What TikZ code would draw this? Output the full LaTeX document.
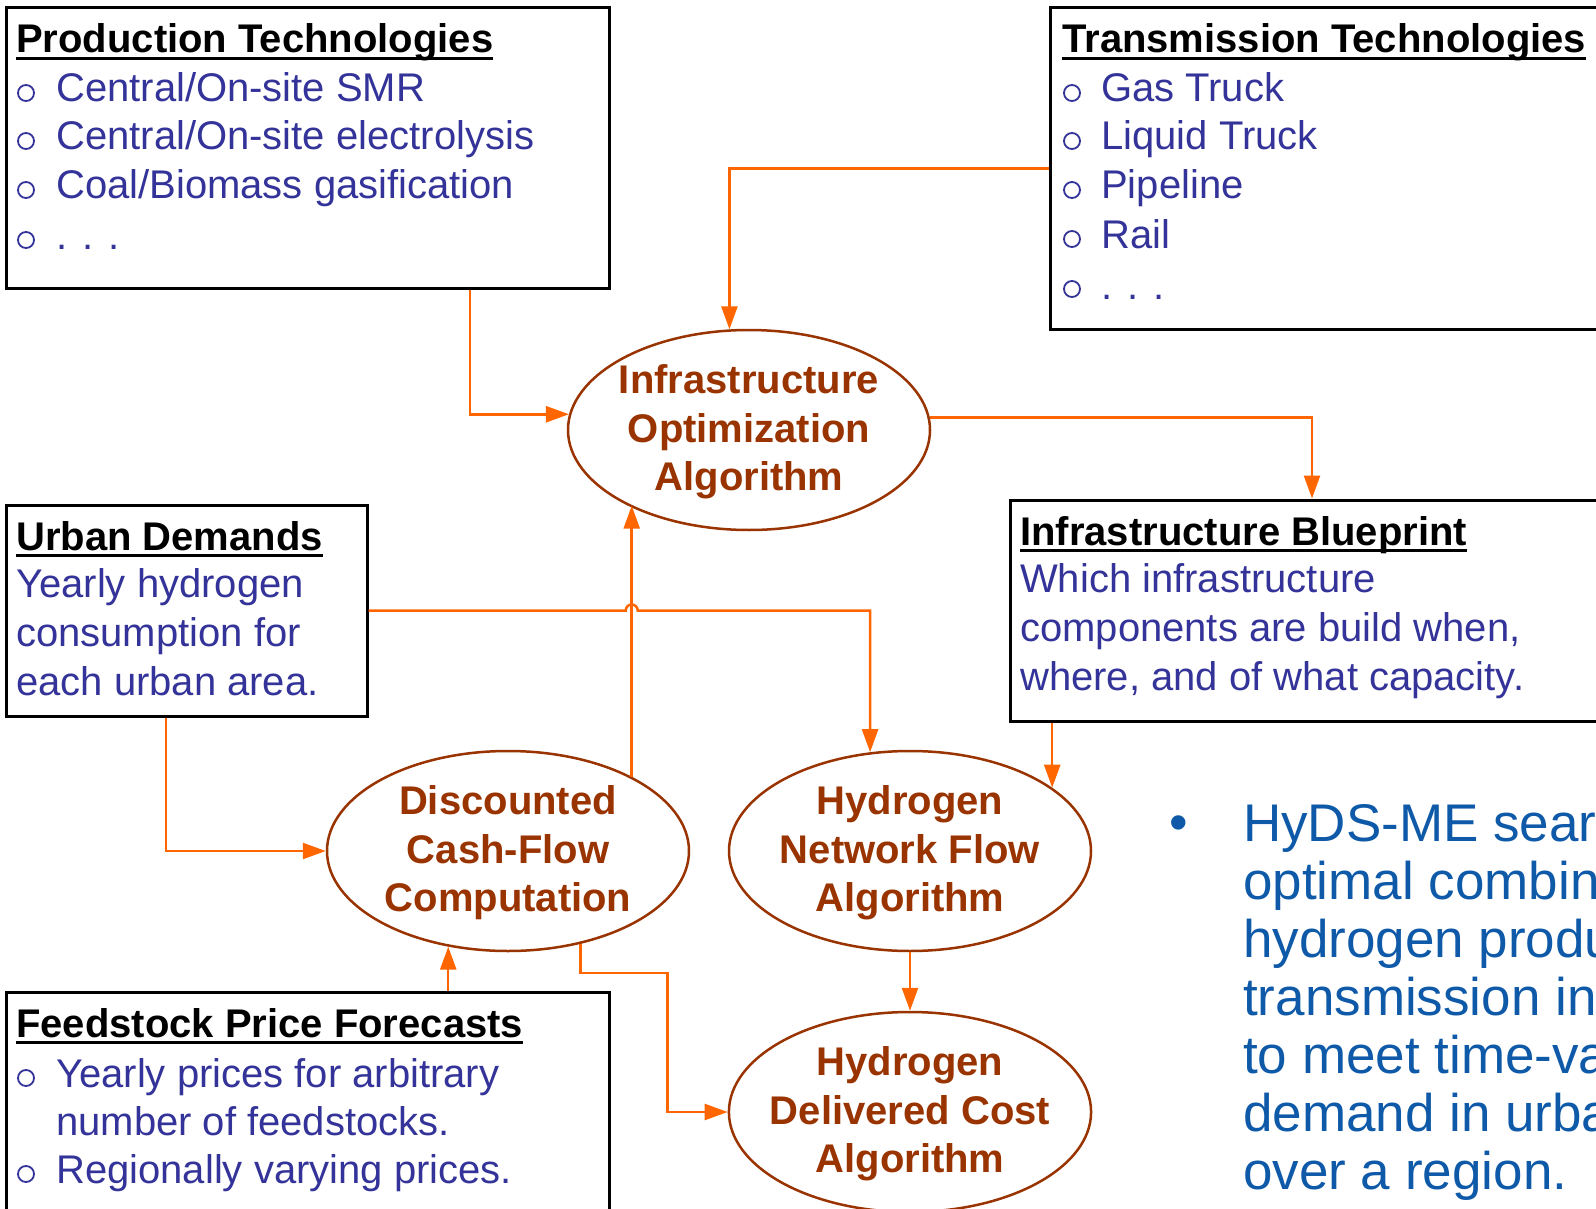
\documentclass[tikz,border=0pt]{standalone}
\usepackage{fontspec}
\setmainfont{Liberation Sans}
\usetikzlibrary{shapes.geometric,arrows.meta,calc}
\definecolor{bluetxt}{HTML}{333399}
\definecolor{brownell}{HTML}{993300}
\definecolor{orangearr}{HTML}{FF6600}
\definecolor{sidetxt}{HTML}{0F5AA8}
\newcommand{\firststrut}{\rule{0pt}{33pt}}
\begin{document}
\begin{tikzpicture}[x=1pt,y=-1pt,
  box/.style={draw=black,line width=3pt,rectangle,inner sep=0pt},
  ell/.style={ellipse,draw=brownell,line width=2.5pt,minimum width=362pt,minimum height=200pt,
    inner xsep=-12pt,inner ysep=0pt,align=center,text=brownell,
    font=\fontsize{40}{48.4}\selectfont\bfseries},
  ttl/.style={anchor=base west,inner sep=0pt,font=\fontsize{40}{49}\selectfont\bfseries},
  itm/.style={anchor=base west,inner sep=0pt,text=bluetxt,font=\fontsize{40}{49}\selectfont},
  bulc/.style={circle,draw=bluetxt,line width=1.8pt,minimum size=16pt,inner sep=0pt},
  side/.style={anchor=base west,inner sep=0pt,text=sidetxt,font=\fontsize{53}{58}\selectfont},
  uln/.style={line width=3pt},
  arr/.style={draw=orangearr,line width=2.5pt,-{Triangle[length=23pt,width=16pt]}}]
\useasboundingbox (0,0) rectangle (1596,1209);
\clip (0,0) rectangle (1596,1209);

% boxes
\node[box,minimum width=603pt,minimum height=280pt] (prod) at (307.5,148) {};
\node[box,minimum width=590pt,minimum height=321pt] (trans) at (1345,168.5) {};
\node[box,minimum width=361pt,minimum height=211pt] (urban) at (186.5,610.5) {};
\node[box,minimum width=630pt,minimum height=221pt] (blue) at (1325,610.5) {};
\node[box,minimum width=603pt,minimum height=248pt] (feed) at (307.5,1116) {};

% ellipses
\node[ell] (opt) at (749,430) {\firststrut Infrastructure\\Optimization\\Algorithm};
\node[ell] (dcf) at (508,851) {\firststrut Discounted\\Cash-Flow\\Computation};
\node[ell] (hnf) at (910,851) {\firststrut Hydrogen\\Network Flow\\Algorithm};
\node[ell] (hdc) at (910,1112) {\firststrut Hydrogen\\Delivered Cost\\Algorithm};

% Production Technologies
\node[ttl] (pt) at (16,53) {Production Technologies};
\draw[uln] ($(pt.base west)+(0,5.5)$) -- ($(pt.base east)+(0,5.5)$);
\node[bulc] (pb1) at (26,93) {}; \node[itm] (pi1) at (56,102) {Central/On-site SMR};
\node[bulc] (pb2) at (26,141) {}; \node[itm] (pi2) at (56,150) {Central/On-site electrolysis};
\node[bulc] (pb3) at (26,190) {}; \node[itm] (pi3) at (56,199) {Coal/Biomass gasification};
\node[bulc] (pb4) at (26,240) {}; \node[itm] (pi4) at (56,250) {. . .};

% Transmission Technologies
\node[ttl] (tt) at (1062,53) {Transmission Technologies};
\draw[uln] ($(tt.base west)+(0,5.5)$) -- ($(tt.base east)+(0,5.5)$);
\node[bulc] (tb1) at (1072,93) {}; \node[itm] (ti1) at (1101,102) {Gas Truck};
\node[bulc] (tb2) at (1072,141) {}; \node[itm] (ti2) at (1101,150) {Liquid Truck};
\node[bulc] (tb3) at (1072,190) {}; \node[itm] (ti3) at (1101,199) {Pipeline};
\node[bulc] (tb4) at (1072,239) {}; \node[itm] (ti4) at (1101,248) {Rail};
\node[bulc] (tb5) at (1072,289) {}; \node[itm] (ti5) at (1101,299) {. . .};

% Urban Demands
\node[ttl] (ut) at (16,550) {Urban Demands};
\draw[uln] ($(ut.base west)+(0,5.5)$) -- ($(ut.base east)+(0,5.5)$);
\node[itm] (ui1) at (16,597) {Yearly hydrogen};
\node[itm] (ui2) at (16,646) {consumption for};
\node[itm] (ui3) at (16,695) {each urban area.};

% Infrastructure Blueprint
\node[ttl] (bt) at (1020,545) {Infrastructure Blueprint};
\draw[uln] ($(bt.base west)+(0,5.5)$) -- ($(bt.base east)+(0,5.5)$);
\node[itm] (bi1) at (1020,592) {Which infrastructure};
\node[itm] (bi2) at (1020,641) {components are build when,};
\node[itm] (bi3) at (1020,690) {where, and of what capacity.};

% Feedstock Price Forecasts
\node[ttl] (ft) at (16,1037) {Feedstock Price Forecasts};
\draw[uln] ($(ft.base west)+(0,5.5)$) -- ($(ft.base east)+(0,5.5)$);
\node[bulc] (fb1) at (26,1078) {}; \node[itm] (fi1) at (56,1087) {Yearly prices for arbitrary};
\node[itm] (fi2) at (56,1135) {number of feedstocks.};
\node[bulc] (fb3) at (26,1174) {}; \node[itm] (fi3) at (56,1183) {Regionally varying prices.};

% side text
\node[anchor=center,inner sep=0pt,text=sidetxt,font=\fontsize{53}{58}\selectfont] (sb) at (1179,828) {•};
\foreach \t [count=\i] in {HyDS-ME sear,optimal combin,hydrogen produ,transmission in,to meet time-va,demand in urba,over a region.}
  \node[side] (s\i) at ({1243},{841+58*(\i-1)}) {\t};

% connectors
\draw[arr] ([xshift=162.5pt]prod.south) |- (opt.175);
\draw[arr] (trans.west) -| (opt.101);
\draw[arr] (opt.4.5) -| ([xshift=-13pt]blue.north);
\draw[arr] (urban.east) -- ($(urban.east -| dcf.31.6)+(-6pt,0)$)
   arc[start angle=180,end angle=0,radius=6pt] -| (hnf.112);
\draw[arr] (dcf.31.6) -- (dcf.31.6 |- opt.212);
\draw[arr] ([xshift=-20.5pt]urban.south) |- (dcf.west);
\draw[arr] (dcf.-122.5 |- feed.north) -- (dcf.-122.5);
\draw[arr] (dcf.-52.8) -- ++(0,29) -| ($(hdc.west)+(-60pt,0)$) -- (hdc.west);
\draw[arr] (hnf.south) -- (hdc.north);
\draw[arr] (hnf.24.4 |- blue.south) -- (hnf.24.4);
\end{tikzpicture}
\end{document}
